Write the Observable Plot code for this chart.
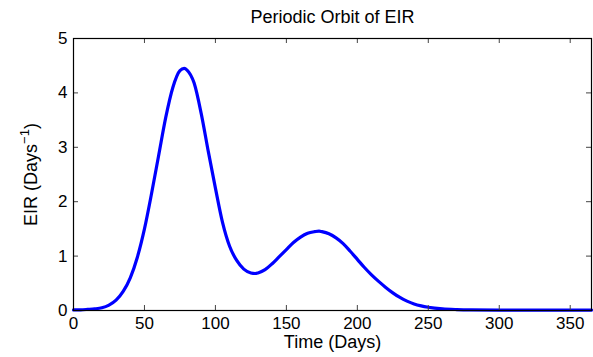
<!DOCTYPE html>
<html>
<head>
<meta charset="utf-8">
<script src="https://cdn.jsdelivr.net/npm/d3@7"></script>
<script src="https://cdn.jsdelivr.net/npm/@observablehq/plot@0.6"></script>
<style>
  html, body { margin: 0; padding: 0; background: #fff; }
  svg { display: block; }
  #chart svg g[aria-label$="tick label"] { font-size: 17px; }
  #chart svg g[aria-label$="tick label"] text { font-size: 17px; }
</style>
</head>
<body>
<div id="chart"></div>
<script>
const days = [0, 5, 10, 15, 20, 25, 30, 35, 40, 45, 50, 55, 60, 65, 70, 75, 78, 80, 85, 90, 95, 100, 105, 110, 115, 120, 125, 128, 130, 135, 140, 145, 150, 155, 160, 165, 170, 173, 175, 180, 185, 190, 195, 200, 205, 210, 215, 220, 225, 230, 235, 240, 245, 250, 260, 270, 280, 300, 330, 365];
const eir  = [0.01, 0.012, 0.02, 0.03, 0.05, 0.1, 0.19, 0.35, 0.6, 0.98, 1.5, 2.15, 2.85, 3.55, 4.1, 4.41, 4.45, 4.42, 4.18, 3.62, 2.92, 2.25, 1.62, 1.18, 0.92, 0.76, 0.69, 0.68, 0.69, 0.75, 0.86, 0.99, 1.12, 1.25, 1.35, 1.42, 1.45, 1.46, 1.45, 1.41, 1.335, 1.23, 1.09, 0.94, 0.79, 0.655, 0.535, 0.425, 0.325, 0.24, 0.172, 0.12, 0.085, 0.06, 0.03, 0.017, 0.011, 0.008, 0.007, 0.008];
const xTicks = [0, 50, 100, 150, 200, 250, 300, 350];
const yTicks = [0, 1, 2, 3, 4, 5];
const titleText = "Periodic Orbit of EIR";
const xLabel = "Time (Days)";
const yLabel = "EIR (Days";

const data = days.map((d, i) => ({day: d, eir: eir[i]}));

const W = 593, H = 357, mT = 38, mB = 47, mL = 73, mR = 2;
const frameH = H - mT - mB, frameW = W - mL - mR;
const font = "'Liberation Sans', Arial, Helvetica, sans-serif";

const chart = Plot.plot({
  width: W,
  height: H,
  marginTop: mT,
  marginBottom: mB,
  marginLeft: mL,
  marginRight: mR,
  style: {fontFamily: font, fontSize: "17px", color: "#000", background: "#fff"},
  x: {domain: [0, 365]},
  y: {domain: [0, 5]},
  marks: [
    Plot.line(data, {x: "day", y: "eir", stroke: "#0000ff", strokeWidth: 3.2, curve: "monotone-x"}),
    Plot.tickX(xTicks, {x: d => d, stroke: "#444", insetTop: frameH - 5}),
    Plot.tickX(xTicks, {x: d => d, stroke: "#444", insetBottom: frameH - 5}),
    Plot.tickY(yTicks, {y: d => d, stroke: "#444", insetRight: frameW - 5}),
    Plot.tickY(yTicks, {y: d => d, stroke: "#444", insetLeft: frameW - 5}),
    Plot.frame({stroke: "#000", strokeWidth: 1.2}),
    Plot.axisX(xTicks, {tickSize: 0, tickPadding: 6, label: null, fontSize: 17, tickFormat: "d"}),
    Plot.axisY(yTicks, {tickSize: 0, tickPadding: 6, label: null, fontSize: 17, tickFormat: "d"}),
    Plot.text([titleText], {frameAnchor: "top", lineAnchor: "middle", textAnchor: "middle", dy: -21, fontSize: 18, fill: "#000"}),
    Plot.text([xLabel], {frameAnchor: "bottom", lineAnchor: "middle", textAnchor: "middle", dy: 32, fontSize: 18, fill: "#000"}),
    Plot.text([yLabel], {frameAnchor: "left", lineAnchor: "middle", textAnchor: "middle", dx: -42, rotate: -90, fontSize: 18, fill: "#000", className: "ylab"})
  ]
});

document.getElementById("chart").appendChild(chart);

// add superscript "−1" and closing parenthesis to the y label
const yl = chart.querySelector(".ylab text");
if (yl) {
  const base = yl.textContent;
  yl.textContent = "";
  const ns = "http://www.w3.org/2000/svg";
  const t1 = document.createElementNS(ns, "tspan");
  t1.textContent = base;
  const t2 = document.createElementNS(ns, "tspan");
  t2.textContent = "\u22121";
  t2.setAttribute("font-size", "13");
  t2.setAttribute("dy", "-8");
  const t3 = document.createElementNS(ns, "tspan");
  t3.textContent = ")";
  t3.setAttribute("dy", "8");
  yl.appendChild(t1); yl.appendChild(t2); yl.appendChild(t3);
}
</script>
</body>
</html>
